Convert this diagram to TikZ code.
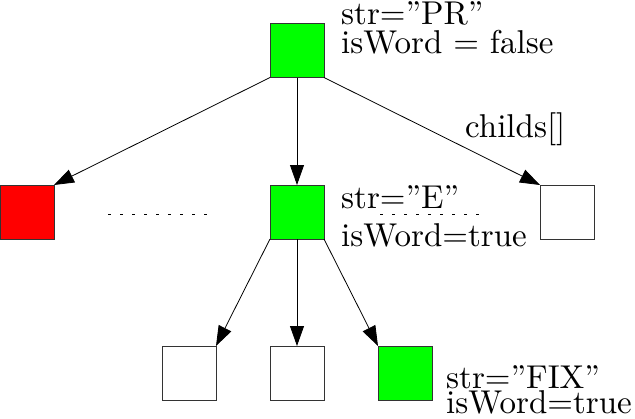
\documentclass[tikz,border=0pt]{standalone}
\usepackage{graphicx}
\usetikzlibrary{arrows.meta}
\newcommand{\bigtxt}[1]{\scalebox{3.3}{\fontsize{10}{12}\selectfont #1}}
\begin{document}
\begin{tikzpicture}[x=1pt,y=-1pt,
  sq/.style={draw=black!80,line width=1pt,minimum size=54pt,inner sep=0pt,outer sep=0pt},
  lbl/.style={anchor=base west,inner sep=0pt},
  arr/.style={line width=0.8pt,-{Triangle[length=20pt,width=14pt]}},
  dots/.style={line width=0.8pt,dash pattern=on 3pt off 9pt}]
\useasboundingbox (0,0) rectangle (635,418);
\node[sq,fill=green] (top) at (297,50.5) {};
\node[sq,fill=red] (left) at (27,212) {};
\node[sq,fill=green] (mid) at (297,212) {};
\node[sq,fill=white] (right) at (567,212) {};
\node[sq,fill=white] (b1) at (189,373) {};
\node[sq,fill=white] (b2) at (297,373) {};
\node[sq,fill=green] (b3) at (405,373) {};
\draw[arr] (top.south west) -- (left.north east);
\draw[arr] (top.south) -- (mid.north);
\draw[arr] (top.south east) -- (right.north west);
\draw[arr] (mid.south west) -- (b1.north east);
\draw[arr] (mid.south) -- (b2.north);
\draw[arr] (mid.south east) -- (b3.north west);
\node[lbl] (t1) at (341,24) {\bigtxt{str=”PR”}};
\node[lbl] (t2) at (341,53) {\bigtxt{isWord = false}};
\node[lbl] (t3) at (465,137) {\bigtxt{childs[]}};
\node[lbl] (t4) at (341,208) {\bigtxt{str=”E”}};
\node[lbl] (t5) at (341,246) {\bigtxt{isWord=true}};
\node[lbl] (t6) at (446,388) {\bigtxt{str=”FIX”}};
\node[lbl] (t7) at (446,413) {\bigtxt{isWord=true}};
\coordinate (d1a) at (108,214); \coordinate (d1b) at (207,214);
\coordinate (d2a) at (380,214); \coordinate (d2b) at (479,214);
\draw[dots] (d1a) -- (d1b);
\draw[dots] (d2a) -- (d2b);
\end{tikzpicture}
\end{document}
